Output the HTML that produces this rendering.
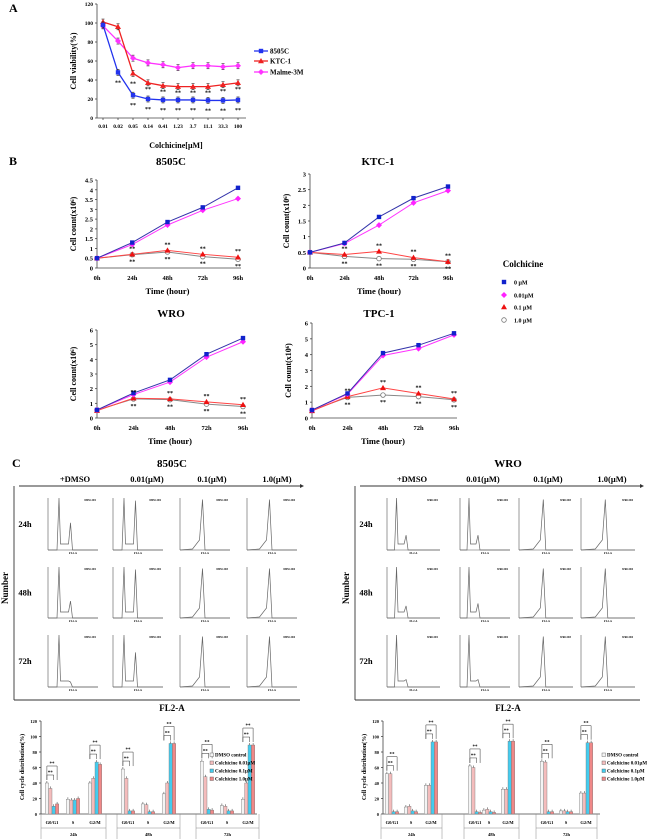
<!DOCTYPE html>
<html><head><meta charset="utf-8"><style>
html,body{margin:0;padding:0;background:#fff;}
svg{display:block;font-family:"Liberation Serif",serif;font-weight:bold;}
</style></head><body>
<svg id="fig" width="650" height="839" viewBox="0 0 650 839" xmlns="http://www.w3.org/2000/svg"></svg>
<script>
// ---------- Panel A data ----------
const doseLabels = ['0.01','0.02','0.05','0.14','0.41','1.23','3.7','11.1','33.3','100'];
const via8505C = [98,48,24,20,19,19,19,18.5,18.5,19];
const viaKTC1 = [101,96,47,37,34,33,33,33,35,37];
const viaMalme = [97,81,63,58,56,53,55,55,54,55];
const viaTicks = [0,20,40,60,80,100,120];
// ---------- Panel B data ----------
const timeLabels = ['0h','24h','48h','72h','96h'];
const c8505C_0 = [0.5,1.3,2.35,3.1,4.1];
const c8505C_001 = [0.5,1.2,2.2,2.95,3.55];
const c8505C_01 = [0.5,0.7,0.9,0.7,0.55];
const c8505C_1 = [0.5,0.68,0.82,0.58,0.45];
const cKTC1_0 = [0.5,0.8,1.63,2.23,2.6];
const cKTC1_001 = [0.5,0.78,1.37,2.08,2.47];
const cKTC1_01 = [0.5,0.43,0.53,0.33,0.2];
const cKTC1_1 = [0.5,0.37,0.3,0.28,0.2];
const cWRO_0 = [0.55,1.7,2.6,4.35,5.45];
const cWRO_001 = [0.55,1.6,2.45,4.15,5.2];
const cWRO_01 = [0.5,1.35,1.3,1.1,0.9];
const cWRO_1 = [0.55,1.3,1.25,0.95,0.78];
const cTPC1_0 = [0.5,1.55,4.1,4.6,5.35];
const cTPC1_001 = [0.5,1.5,3.95,4.38,5.25];
const cTPC1_01 = [0.45,1.35,1.9,1.55,1.2];
const cTPC1_1 = [0.5,1.3,1.45,1.35,1.15];
// ---------- Panel C histogram data (relative peak heights) ----------
const hist8505C_G1 = [1,1,0,0, 1,1,0,0, 1,1,0,0];
const hist8505C_G2 = [0.55,1,1,1, 0.35,1,1,1, 0.1,0.7,1,1];
const histWRO_G1 = [1,1,0,0, 1,1,0,0, 1,1,0,0];
const histWRO_G2 = [0.3,0.3,1,1, 0.25,0.3,1,1, 0.15,0.15,1,1];
// ---------- Panel C bar data (24h G0/G1,S,G2/M, 48h..., 72h...) ----------
const phaseLabels = ['G0/G1','S','G2/M'];
const timeGroups = ['24h','48h','72h'];
const barTicks = [0,20,40,60,80,100,120];
const b8505C_DMSO = [40,19,40, 58,13,26, 68,11,19];
const b8505C_001 = [33,18,46, 46,12,40, 48,10,40];
const b8505C_01 = [10,18,67, 4,3,91, 6,4,89];
const b8505C_1 = [13,20,64, 4,3,91, 5,4,89];
const bWRO_DMSO = [52,9,37, 62,5,32, 68,4,27];
const bWRO_001 = [52,10,37, 60,6,32, 67,4,27];
const bWRO_01 = [3,4,93, 3,3,94, 3,3,92];
const bWRO_1 = [3,3,93, 2,2,94, 3,3,92];

const NS = 'http://www.w3.org/2000/svg';
const svg = document.getElementById('fig');
function mk(tag, attrs, name, parent) {
  const e = document.createElementNS(NS, tag);
  for (const k in attrs) e.setAttribute(k, attrs[k]);
  
  
  (parent || svg).appendChild(e);
  return e;
}
function txt(x, y, s, size, name, anchor, rot) {
  const a = {x: x, y: y, 'font-size': size, 'text-anchor': anchor || 'middle', fill: '#000'};
  if (rot) a.transform = 'rotate(' + rot + ' ' + x + ' ' + y + ')';
  const e = mk('text', a, name);
  e.textContent = s;
  return e;
}
function line(x1, y1, x2, y2, stroke, w, name) {
  return mk('line', {x1: x1, y1: y1, x2: x2, y2: y2, stroke: stroke, 'stroke-width': w}, name);
}
function marker(type, x, y, color, name) {
  if (type === 'sq') return mk('rect', {x: x - 2.2, y: y - 2.2, width: 4.4, height: 4.4, fill: color}, name);
  if (type === 'di') return mk('polygon', {points: [x, y - 3, x + 3, y, x, y + 3, x - 3, y].join(','), fill: color}, name);
  if (type === 'tr') return mk('polygon', {points: [x, y - 3, x + 3, y + 2.2, x - 3, y + 2.2].join(','), fill: color}, name);
  return mk('circle', {cx: x, cy: y, r: 2.3, fill: '#fff', stroke: '#777', 'stroke-width': 0.8}, name);
}

// ================= Panel A =================
txt(9, 12, 'A', 12, 'panel-label-a', 'start');
(function () {
  const ax = 97, yb = 118, yt = 4, ymax = 120, xf = 103, xl = 238;
  const X = i => xf + (xl - xf) * i / (doseLabels.length - 1);
  const Y = v => yb - (yb - yt) * v / ymax;
  line(ax, yt, ax, yb, '#444', 0.8, 'viability-y-axis');
  line(ax, yb, xl + 8, yb, '#444', 0.8, 'viability-x-axis');
  viaTicks.forEach(t => {
    line(ax - 2, Y(t), ax, Y(t), '#444', 0.8, 'viability-y-tick');
    txt(ax - 4, Y(t) + 2, String(t), 5.5, 'viability-y-tick-label', 'end');
  });
  doseLabels.forEach((d, i) => {
    line(X(i), yb, X(i), yb + 2, '#444', 0.8, 'viability-x-tick');
    txt(X(i), yb + 10, d, 5.5, 'dose-label-' + i);
  });
  txt(176, 148, 'Colchicine[μM]', 8, 'viability-x-title');
  txt(76, 61, 'Cell viability(%)', 8, 'viability-y-title', 'middle', -90);
  const ser = [[viaMalme, '#ff33ff', 'di', 'malme-3m'], [viaKTC1, '#ee2222', 'tr', 'ktc-1'], [via8505C, '#2233ee', 'sq', '8505c']];
  ser.forEach(s => {
    const pts = s[0].map((v, i) => X(i) + ',' + Y(v)).join(' ');
    mk('polyline', {points: pts, fill: 'none', stroke: s[1], 'stroke-width': 1.3}, 'viability-line-' + s[3]);
    s[0].forEach((v, i) => {
      line(X(i), Y(v) - 3, X(i), Y(v) + 3, '#222', 0.6, 'viability-error-bar');
      line(X(i) - 1.5, Y(v) - 3, X(i) + 1.5, Y(v) - 3, '#222', 0.6, 'viability-error-cap');
      line(X(i) - 1.5, Y(v) + 3, X(i) + 1.5, Y(v) + 3, '#222', 0.6, 'viability-error-cap');
      marker(s[2], X(i), Y(v), s[1], 'viability-point-' + s[3]);
    });
  });
  via8505C.forEach((v, i) => { if (i > 0) txt(X(i), Y(v) + 12, '**', 6, 'sig-8505c'); });
  viaKTC1.forEach((v, i) => { if (i > 1) txt(X(i), Y(v) + 8 + (i === 2 ? 4 : 0), '**', 6, 'sig-ktc1'); });
  const leg = [['8505C', '#2233ee', 'sq', 51], ['KTC-1', '#ee2222', 'tr', 61], ['Malme-3M', '#ff33ff', 'di', 72]];
  leg.forEach(l => {
    line(254, l[3], 268, l[3], l[1], 1.3, 'viability-legend-line');
    marker(l[2], 261, l[3], l[1], 'viability-legend-marker');
    txt(270, l[3] + 2.5, l[0], 7, 'viability-legend-' + l[0], 'start');
  });
})();

// ================= Panel B =================
txt(9, 165, 'B', 12, 'panel-label-b', 'start');
function growth(cfg) {
  const X = i => cfg.ax + (cfg.x96 - cfg.ax) * i / 4;
  const Y = v => cfg.yb - (cfg.yb - cfg.yt) * v / cfg.ymax;
  txt(cfg.tx, cfg.ty, cfg.title, 11, 'growth-title-' + cfg.id);
  line(cfg.ax, cfg.yt, cfg.ax, cfg.yb, '#444', 0.8, 'growth-y-axis-' + cfg.id);
  line(cfg.ax, cfg.yb, cfg.x96 + 3, cfg.yb, '#444', 0.8, 'growth-x-axis-' + cfg.id);
  cfg.ticks.forEach(t => {
    line(cfg.ax - 2, Y(t), cfg.ax, Y(t), '#444', 0.8, 'growth-y-tick');
    txt(cfg.ax - 4, Y(t) + 2.5, String(t), 6.5, 'growth-y-tick-label', 'end');
  });
  timeLabels.forEach((t, i) => txt(X(i), cfg.yb + 12, t, 6.5, 'growth-x-tick-label'));
  txt((cfg.ax + cfg.x96) / 2, cfg.yb + 26, 'Time (hour)', 8.5, 'growth-x-title-' + cfg.id);
  txt(cfg.ax - 21, (cfg.yt + cfg.yb) / 2, 'Cell count(x10⁶)', 8, 'growth-y-title-' + cfg.id, 'middle', -90);
  const ser = [[cfg.s1, '#888888', 'ci'], [cfg.s01, '#ff4444', 'tr'], [cfg.s001, '#ff33ff', 'di'], [cfg.s0, '#3333aa', 'sq']];
  const cols = {sq: '#1122cc', di: '#ff22ff', tr: '#ee1111', ci: '#fff'};
  ser.forEach(s => {
    mk('polyline', {points: s[0].map((v, i) => X(i) + ',' + Y(v)).join(' '), fill: 'none', stroke: s[1], 'stroke-width': 1}, 'growth-line-' + cfg.id);
    s[0].forEach((v, i) => marker(s[2], X(i), Y(v), cols[s[2]], 'growth-point-' + cfg.id));
  });
  cfg.s01.forEach((v, i) => { if (i > 0) txt(X(i), Y(Math.max(v, cfg.s1[i])) - 4, '**', 6, 'growth-sig'); });
  cfg.s1.forEach((v, i) => { if (i > 0) txt(X(i), Y(Math.min(v, cfg.s01[i])) + 9, '**', 6, 'growth-sig'); });
}
growth({id: '8505c', title: '8505C', tx: 171, ty: 165, ax: 97, x96: 238, yb: 268, yt: 180, ymax: 4.5, ticks: [0,0.5,1,1.5,2,2.5,3,3.5,4,4.5], s0: c8505C_0, s001: c8505C_001, s01: c8505C_01, s1: c8505C_1});
growth({id: 'ktc1', title: 'KTC-1', tx: 378, ty: 165, ax: 310, x96: 448, yb: 268, yt: 174, ymax: 3, ticks: [0,0.5,1,1.5,2,2.5,3], s0: cKTC1_0, s001: cKTC1_001, s01: cKTC1_01, s1: cKTC1_1});
growth({id: 'wro', title: 'WRO', tx: 171, ty: 317, ax: 97, x96: 243, yb: 418, yt: 330, ymax: 6, ticks: [0,1,2,3,4,5,6], s0: cWRO_0, s001: cWRO_001, s01: cWRO_01, s1: cWRO_1});
growth({id: 'tpc1', title: 'TPC-1', tx: 379, ty: 317, ax: 312, x96: 454, yb: 418, yt: 323, ymax: 6, ticks: [0,1,2,3,4,5,6], s0: cTPC1_0, s001: cTPC1_001, s01: cTPC1_01, s1: cTPC1_1});
txt(523, 267, 'Colchicine', 9, 'growth-legend-title');
[['sq', '#1122cc', '0 μM', 282], ['di', '#ff22ff', '0.01μM', 295], ['tr', '#ee1111', '0.1 μM', 307], ['ci', '#fff', '1.0 μM', 320]].forEach(l => {
  marker(l[0], 504, l[3], l[1], 'growth-legend-marker');
  txt(514, l[3] + 2.5, l[2], 6, 'growth-legend-label', 'start');
});

// ================= Panel C histograms =================
txt(12, 467, 'C', 12, 'panel-label-c', 'start');
function histBlock(cfg) {
  txt(cfg.tx, 467, cfg.title, 11, 'hist-title-' + cfg.id);
  cfg.heads.forEach((h, i) => txt(cfg.hx[i], 482, h, 8.5, 'hist-column-header'));
  line(cfg.left + 5, 486, cfg.right, 486, '#333', 0.9, 'hist-top-axis-' + cfg.id);
  mk('polygon', {points: [cfg.right, 484, cfg.right + 4, 486, cfg.right, 488].join(','), fill: '#333'}, 'hist-arrow');
  line(cfg.left, 486, cfg.left, 700, '#333', 0.9, 'hist-left-axis-' + cfg.id);
  line(cfg.left, 700, cfg.right, 700, '#333', 0.9, 'hist-bottom-axis-' + cfg.id);
  txt(cfg.left - 6, 588, 'Number', 9, 'hist-number-label-' + cfg.id, 'middle', -90);
  txt(cfg.tx, 711, 'FL2-A', 9, 'hist-fl2a-label-' + cfg.id);
  const rowsY = [[498, 550], [567, 618], [635, 687]];
  ['24h', '48h', '72h'].forEach((r, ri) => txt(cfg.left + 11, (rowsY[ri][0] + rowsY[ri][1]) / 2 + 3, r, 8.5, 'hist-row-label'));
  for (let ri = 0; ri < 3; ri++) for (let ci = 0; ci < 4; ci++) {
    const k = ri * 4 + ci;
    const x0 = cfg.cols[ci][0], x1 = cfg.cols[ci][1], w = x1 - x0;
    const yt = rowsY[ri][0], yb = rowsY[ri][1], h = yb - yt;
    line(x0, yt, x0, yb, '#555', 0.6, 'hist-y-axis');
    line(x0, yb, x1, yb, '#555', 0.6, 'hist-x-axis');
    txt(x0 + w / 2, yb + 4, 'FL2-A', 2.8, 'hist-axis-label');
    txt(x1 - 2, yt + 3, cfg.id.toUpperCase() + '.00' + (ci + 1), 2.6, 'hist-file-label', 'end');
    const g1 = cfg.g1[k], g2 = cfg.g2[k];
    const gx = x0 + w * cfg.p1, g2x = x0 + w * cfg.p2, tx = x0 + w * 0.45;
    let d;
    if (g1 > 0) {
      d = 'M' + x0 + ',' + yb + ' L' + (gx - 2) + ',' + yb + ' L' + gx + ',' + (yb - h * g1) + ' L' + (gx + 1.5) + ',' + (yb - 6) +
        ' L' + (g2x - 2) + ',' + (yb - 6) + ' L' + g2x + ',' + (yb - h * g2 * 0.95) + ' L' + (g2x + 2) + ',' + yb + ' L' + x1 + ',' + yb;
    } else {
      d = 'M' + x0 + ',' + yb + ' L' + (tx - 10) + ',' + (yb - 1) + ' L' + (tx - 3) + ',' + (yb - 10) + ' L' + tx + ',' + (yb - h * g2 * 0.97) +
        ' L' + (tx + 2.5) + ',' + yb + ' L' + x1 + ',' + yb;
    }
    mk('path', {d: d, fill: 'none', stroke: '#666', 'stroke-width': 0.7}, 'histogram-trace');
  }
}
histBlock({id: '8505c', title: '8505C', tx: 172, left: 14, right: 300, hx: [75, 147, 212, 277],
  heads: ['+DMSO', '0.01(μM)', '0.1(μM)', '1.0(μM)'], cols: [[48, 98], [113, 163], [180, 230], [247, 297]],
  p1: 0.22, p2: 0.45, g1: hist8505C_G1, g2: hist8505C_G2});
histBlock({id: 'wro', title: 'WRO', tx: 508, left: 355, right: 640, hx: [412, 483, 548, 612],
  heads: ['+DMSO', '0.01(μM)', '0.1(μM)', '1.0(μM)'], cols: [[387, 440], [460, 510], [519, 573], [581, 635]],
  p1: 0.18, p2: 0.36, g1: histWRO_G1, g2: histWRO_G2});

// ================= Panel C bar charts =================
function bars(cfg) {
  const yb = 814, yt = 721;
  const Y = v => yb - (yb - yt) * v / 120;
  line(cfg.ax, yt, cfg.ax, yb, '#444', 0.8, 'cycle-y-axis-' + cfg.id);
  line(cfg.ax, yb, cfg.xe, yb, '#444', 0.8, 'cycle-x-axis-' + cfg.id);
  barTicks.forEach(t => {
    line(cfg.ax - 2, Y(t), cfg.ax, Y(t), '#444', 0.8, 'cycle-y-tick');
    txt(cfg.ax - 4, Y(t) + 2, String(t), 4.5, 'cycle-y-tick-label', 'end');
  });
  txt(cfg.ax - 17, 767, 'Cell cycle distribution(%)', 6, 'cycle-y-title-' + cfg.id, 'middle', -90);
  const series = [[cfg.d, '#f4f4f4'], [cfg.a, '#f4bcbc'], [cfg.b, '#44ccee'], [cfg.c, '#f08888']];
  const bw = 3.4;
  cfg.centers.forEach((c, k) => {
    txt(c, 824, phaseLabels[k % 3], 4.5, 'cycle-phase-label');
    series.forEach((s, j) => {
      const v = s[0][k], x = c - 2 * bw + j * bw;
      mk('rect', {x: x, y: Y(v), width: bw, height: yb - Y(v), fill: s[1], stroke: '#777', 'stroke-width': 0.4}, 'cycle-bar');
      line(x + bw / 2, Y(v) - 2, x + bw / 2, Y(v), '#333', 0.5, 'cycle-error-bar');
    });
    if (k % 3 !== 1) {
      const m = Math.max(cfg.d[k], cfg.a[k], cfg.b[k], cfg.c[k]);
      const x0 = c - 1.5 * bw;
      [[c + 0.5 * bw, 8], [c + 1.5 * bw, 17]].forEach(br => {
        mk('polyline', {points: [x0, Y(m) - 3, x0, Y(m) - br[1], br[0], Y(m) - br[1], br[0], Y(m) - 3].join(','), fill: 'none', stroke: '#333', 'stroke-width': 0.5}, 'cycle-sig-bracket');
        txt((x0 + br[0]) / 2, Y(m) - br[1] - 1, '**', 5, 'cycle-sig-stars');
      });
    }
  });
  for (let g = 0; g < 3; g++) {
    const s = cfg.centers[g * 3] - 11, e = cfg.centers[g * 3 + 2] + 11;
    line(s, yb, s, 839, '#888', 0.5, 'cycle-group-divider');
    line(e, yb, e, 839, '#888', 0.5, 'cycle-group-divider');
    line(s, 828, e, 828, '#888', 0.5, 'cycle-group-rule');
    txt((s + e) / 2, 836, timeGroups[g], 4.5, 'cycle-time-label');
  }
  [['DMSO control', '#f4f4f4'], ['Colchicine 0.01μM', '#f4bcbc'], ['Colchicine 0.1μM', '#44ccee'], ['Colchicine 1.0μM', '#f08888']].forEach((l, i) => {
    const y = 756 + i * 8;
    mk('rect', {x: cfg.lx, y: y - 3, width: 3.5, height: 3.5, fill: l[1], stroke: '#555', 'stroke-width': 0.4}, 'cycle-legend-swatch');
    txt(cfg.lx + 5, y + 0.7, l[0], 5, 'cycle-legend-label', 'start');
  });
}
bars({id: '8505c', ax: 41, xe: 257, centers: [52, 73, 95, 128, 148, 169, 207, 227, 248], lx: 210,
  d: b8505C_DMSO, a: b8505C_001, b: b8505C_01, c: b8505C_1});
bars({id: 'wro', ax: 383, xe: 600, centers: [392, 411, 431, 475, 489, 508, 547, 566, 586], lx: 602,
  d: bWRO_DMSO, a: bWRO_001, b: bWRO_01, c: bWRO_1});
</script>
</body></html>
